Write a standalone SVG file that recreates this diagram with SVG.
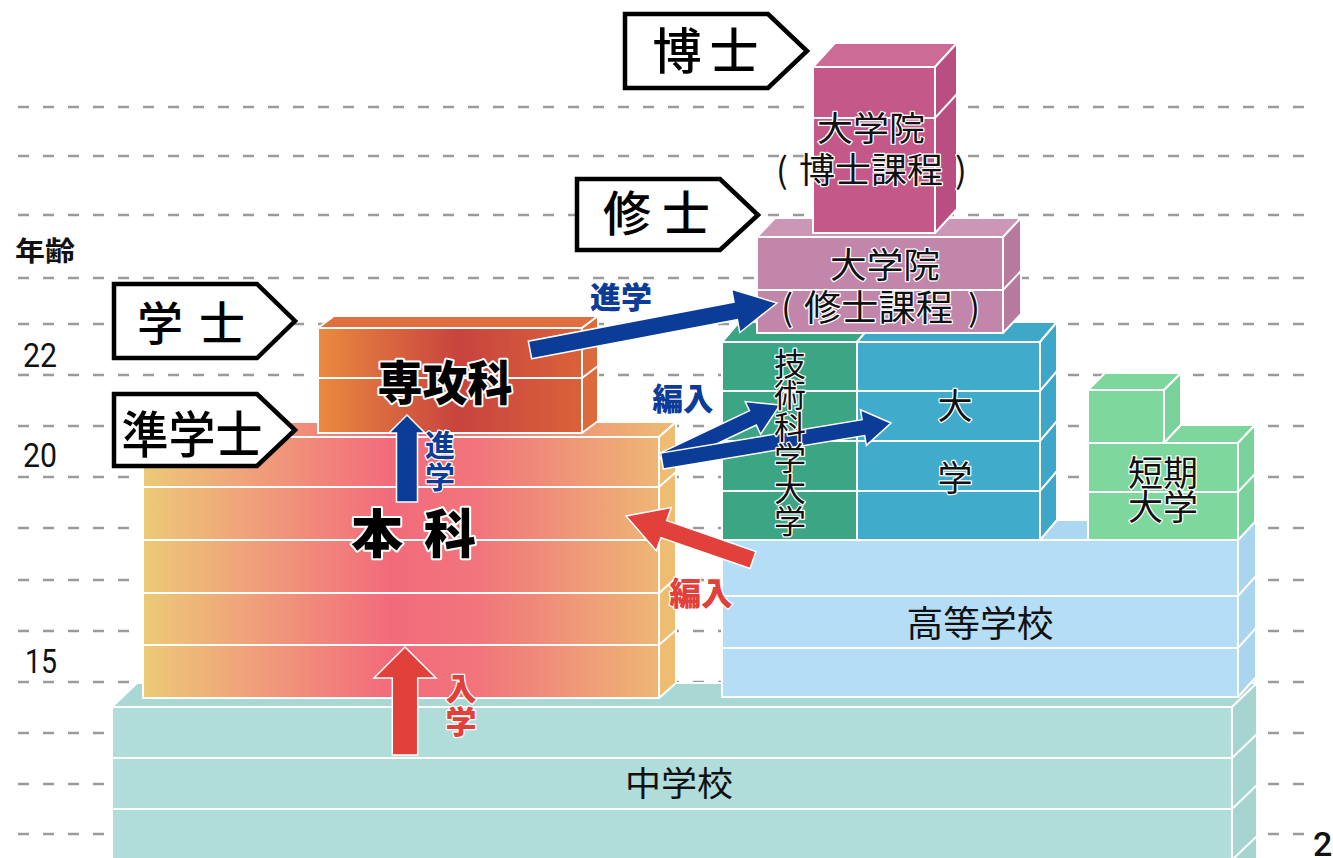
<svg xmlns="http://www.w3.org/2000/svg" width="1333" height="858" viewBox="0 0 1333 858">
<defs>
<style>
.grid line{stroke:#9b9b9b;stroke-width:2.5;stroke-dasharray:11 14}
.face{stroke:#fff;stroke-width:2;stroke-linejoin:round}
.rl{stroke:#fff;stroke-width:2;fill:none}
.jp{font-family:"Noto Sans CJK JP","Noto Sans",sans-serif}
.num{font-family:Roboto,"Liberation Sans",sans-serif;font-size:34px;fill:#111}
.out{stroke:#fff;stroke-width:4;paint-order:stroke;stroke-linejoin:round}
.thin{stroke:#fff;stroke-width:2.5;paint-order:stroke;stroke-linejoin:round}
.lab{fill:#fff;stroke:#000;stroke-width:4.5;stroke-linejoin:miter}
.blue{fill:#0b3c97}
.red{fill:#e2403a}
.arr{stroke:#fff;stroke-width:1.5;stroke-linejoin:miter}
</style>
<linearGradient id="gHonka" gradientUnits="userSpaceOnUse" x1="143" y1="0" x2="659" y2="0">
<stop offset="0" stop-color="#ecca77"/>
<stop offset="0.22" stop-color="#f09e7a"/>
<stop offset="0.48" stop-color="#f26b7b"/>
<stop offset="0.65" stop-color="#f1757b"/>
<stop offset="1" stop-color="#eeb675"/>
</linearGradient>
<linearGradient id="gSenko" gradientUnits="userSpaceOnUse" x1="318" y1="0" x2="598" y2="0">
<stop offset="0" stop-color="#ea8a40"/>
<stop offset="0.5" stop-color="#c8433e"/>
<stop offset="1" stop-color="#dc663a"/>
</linearGradient>
</defs>
<rect width="1333" height="858" fill="#fff"/>

<g class="grid">
<line x1="18" y1="107" x2="1306" y2="107"/>
<line x1="18" y1="156" x2="1306" y2="156"/>
<line x1="18" y1="215" x2="1306" y2="215"/>
<line x1="18" y1="278" x2="1306" y2="278"/>
<line x1="18" y1="324" x2="1306" y2="324"/>
<line x1="18" y1="375" x2="1306" y2="375"/>
<line x1="18" y1="426" x2="1306" y2="426"/>
<line x1="18" y1="477" x2="1306" y2="477"/>
<line x1="18" y1="528" x2="1306" y2="528"/>
<line x1="18" y1="580" x2="1306" y2="580"/>
<line x1="18" y1="631" x2="1306" y2="631"/>
<line x1="18" y1="682" x2="1306" y2="682"/>
<line x1="18" y1="733" x2="1306" y2="733"/>
<line x1="18" y1="784" x2="1306" y2="784"/>
<line x1="18" y1="834" x2="1306" y2="834"/>
</g>

<g id="ages">
<text class="jp" x="15" y="261" font-size="27" font-weight="700" textLength="60" lengthAdjust="spacingAndGlyphs" fill="#111">年齢</text>
<text class="num" x="23" y="367" textLength="34" lengthAdjust="spacingAndGlyphs">22</text>
<text class="num" x="23" y="467" textLength="34" lengthAdjust="spacingAndGlyphs">20</text>
<text class="num" x="25" y="673" textLength="32" lengthAdjust="spacingAndGlyphs">15</text>
<text class="num" x="1313" y="856" font-size="40" font-weight="500">2</text>
</g>

<g id="chugakko">
<rect class="face" x="112" y="707" width="1120" height="160" fill="#b0dcda"/>
<polygon class="face" points="112,707 137,683 1257,683 1232,707" fill="#a9d7d4"/>
<polygon class="face" points="1232,707 1257,683 1257,862 1232,886" fill="#a6d4d1"/>
<path class="rl" d="M112 758H1232L1257 734M112 809H1232L1257 785M1232 860L1257 836"/>
<text class="jp" x="679" y="796" font-size="34" text-anchor="middle" textLength="108" lengthAdjust="spacingAndGlyphs" fill="#111">中学校</text>
</g>

<g id="kotogakko">
<rect class="face" x="722" y="540" width="516" height="157" fill="#b5ddf5"/>
<polygon class="face" points="722,540 740,520 1256,520 1238,540" fill="#acd7f0"/>
<polygon class="face" points="1238,540 1256,520 1256,677 1238,697" fill="#aad5ef"/>
<path class="rl" d="M722 596H1238L1256 576M722 648H1238L1256 628"/>
<text class="jp" x="980" y="637" font-size="36" text-anchor="middle" textLength="147" lengthAdjust="spacingAndGlyphs" fill="#111">高等学校</text>
</g>

<g id="honka">
<polygon class="face" points="143,437 160,422 676,422 659,437" fill="url(#gHonka)"/>
<rect class="face" x="143" y="437" width="516" height="261" fill="url(#gHonka)"/>
<polygon class="face" points="659,437 676,422 676,683 659,698" fill="#efbd72"/>
<path class="rl" d="M143 487H659L676 472M143 540H659L676 525M143 593H659L676 578M143 645H659L676 630"/>
<text class="jp out" x="377" y="553" font-size="52" font-weight="900" text-anchor="middle" fill="#000">本</text>
<text class="jp out" x="450" y="553" font-size="52" font-weight="900" text-anchor="middle" fill="#000">科</text>
</g>

<g id="senkoka">
<polygon class="face" points="318,328 334,316 598,316 582,328" fill="#e0703f"/>
<rect class="face" x="318" y="328" width="264" height="105" fill="url(#gSenko)"/>
<polygon class="face" points="582,328 598,316 598,421 582,433" fill="#dc6a3c"/>
<path class="rl" d="M318 378H582L598 366"/>
<text class="jp out" x="445" y="400" font-size="47" font-weight="900" text-anchor="middle" textLength="135" lengthAdjust="spacingAndGlyphs" fill="#000">専攻科</text>
</g>

<g id="gikadai">
<polygon class="face" points="722,342 739,322 874,322 857,342" fill="#3aa583"/>
<rect class="face" x="722" y="342" width="135" height="198" fill="#3ba584"/>
<path class="rl" d="M722 391H857M722 441H857M722 491H857"/>
</g>

<g id="daigaku">
<polygon class="face" points="857,342 874,322 1057,322 1040,342" fill="#3fa8c9"/>
<rect class="face" x="857" y="342" width="183" height="198" fill="#41abcb"/>
<polygon class="face" points="1040,342 1057,322 1057,520 1040,540" fill="#3ea6c7"/>
<path class="rl" d="M857 391H1040L1057 371M857 441H1040L1057 421M857 491H1040L1057 471"/>
<text class="jp thin" x="955" y="419" font-size="35" text-anchor="middle" fill="#111">大</text>
<text class="jp thin" x="955" y="491" font-size="35" text-anchor="middle" fill="#111">学</text>
</g>

<g id="tanki">
<polygon class="face" points="1088,390 1105,373 1181,373 1164,390" fill="#7dd69c"/>
<polygon class="face" points="1164,390 1181,373 1181,425 1164,443" fill="#79d299"/>
<polygon class="face" points="1164,443 1181,425 1255,425 1238,443" fill="#7dd69c"/>
<polygon class="face" points="1238,443 1255,425 1255,522 1238,540" fill="#79d299"/>
<polygon class="face" points="1088,390 1164,390 1164,443 1238,443 1238,540 1088,540" fill="#7ed79d"/>
<path class="rl" d="M1088 443H1238M1088 492H1238L1255 474"/>
<text class="jp thin" x="1163" y="486" font-size="35" text-anchor="middle" fill="#111">短期</text>
<text class="jp thin" x="1163" y="520" font-size="35" text-anchor="middle" fill="#111">大学</text>
</g>

<g id="shushi-block">
<polygon class="face" points="757,237 775,218 1021,218 1003,237" fill="#cc97b7"/>
<rect class="face" x="757" y="237" width="246" height="96" fill="#c286aa"/>
<polygon class="face" points="1003,237 1021,218 1021,314 1003,333" fill="#b8799f"/>
<path class="rl" d="M757 290H1003L1021 271"/>
<text class="jp thin" x="885" y="278" font-size="35" text-anchor="middle" textLength="110" lengthAdjust="spacingAndGlyphs" fill="#111">大学院</text>
<text class="jp thin" y="321" font-size="36" fill="#111"><tspan x="781">(</tspan><tspan x="804" textLength="149" lengthAdjust="spacingAndGlyphs">修士課程</tspan><tspan x="968">)</tspan></text>
</g>

<g id="hakushi-block">
<polygon class="face" points="813,67 835,43 957,43 935,67" fill="#cd6b97"/>
<rect class="face" x="813" y="67" width="122" height="166" fill="#c45888"/>
<polygon class="face" points="935,67 957,43 957,209 935,233" fill="#b84f80"/>
<path class="rl" d="M813 118H935L957 94"/>
<text class="jp thin" x="871" y="141" font-size="34" text-anchor="middle" textLength="108" lengthAdjust="spacingAndGlyphs" fill="#111">大学院</text>
<text class="jp thin" y="183" font-size="35" fill="#111"><tspan x="776">(</tspan><tspan x="799" textLength="144" lengthAdjust="spacingAndGlyphs">博士課程</tspan><tspan x="955">)</tspan></text>
</g>

<g id="label-hakushi">
<polygon class="lab" points="625,14 768,14 807,51 768,88 625,88"/>
<text class="jp" x="677" y="69" font-size="49" font-weight="500" text-anchor="middle" fill="#000">博</text>
<text class="jp" x="734" y="69" font-size="49" font-weight="500" text-anchor="middle" fill="#000">士</text>
</g>
<g id="label-shushi">
<polygon class="lab" points="577,179 720,179 758,215 720,250 577,250"/>
<text class="jp" x="627" y="231" font-size="48" font-weight="500" text-anchor="middle" fill="#000">修</text>
<text class="jp" x="686" y="231" font-size="48" font-weight="500" text-anchor="middle" fill="#000">士</text>
</g>
<g id="label-gakushi">
<polygon class="lab" points="114,284 257,284 295,321 257,358 114,358"/>
<text class="jp" x="160" y="340" font-size="46" font-weight="500" text-anchor="middle" fill="#000">学</text>
<text class="jp" x="222" y="340" font-size="46" font-weight="500" text-anchor="middle" fill="#000">士</text>
</g>
<g id="label-jungakushi">
<polygon class="lab" points="114,394 257,394 295,430 257,466 114,466"/>
<text class="jp" x="192" y="453" font-size="50" font-weight="500" text-anchor="middle" textLength="141" lengthAdjust="spacingAndGlyphs" fill="#000">準学士</text>
</g>

<g id="connectors">
<polygon class="blue arr" points="531.7,358.8 737.4,319.7 739.8,332.5 777,303 731.6,289.3 734,302.1 528.3,341.2"/>
<polygon class="blue arr" points="396.5,502 396.5,433 389,433 407,415 425,433 417.5,433 417.5,502"/>
<polygon class="blue arr" points="665.4,468.2 756.3,425.1 760.6,434.2 780,405 745.2,401.6 749.5,410.7 658.6,453.8"/>
<polygon class="blue arr" points="663.3,468.9 864.7,435.5 866.4,445.4 891,423 860.5,409.8 862.1,419.7 660.7,453.1"/>
<polygon class="red arr" points="392.3,755 392.3,678 374,678 405,647 436,678 417.7,678 417.7,755"/>
<polygon class="red arr" points="755.9,551.5 666.7,520.6 671.3,507.4 626,516 656.3,550.8 660.9,537.6 750.1,568.5"/>
<text class="jp thin" x="621" y="308" font-size="30" font-weight="900" text-anchor="middle" textLength="62" lengthAdjust="spacingAndGlyphs" fill="#0b3c97">進学</text>
<text class="jp thin" x="683" y="410" font-size="31" font-weight="900" text-anchor="middle" textLength="61" lengthAdjust="spacingAndGlyphs" fill="#0b3c97">編入</text>
<text class="jp thin" font-size="30" font-weight="700" text-anchor="middle" fill="#0b3c97"><tspan x="440" y="456">進</tspan><tspan x="440" y="488">学</tspan></text>
<text class="jp thin" font-size="31" font-weight="900" text-anchor="middle" fill="#e2403a"><tspan x="461" y="700">入</tspan><tspan x="461" y="733">学</tspan></text>
<text class="jp thin" x="701" y="605" font-size="32" font-weight="900" text-anchor="middle" textLength="63" lengthAdjust="spacingAndGlyphs" fill="#e2403a">編入</text>
</g>

<g id="gikadai-label">
<text class="jp thin" font-size="32" text-anchor="middle" fill="#111"><tspan x="790" y="376">技</tspan><tspan x="790" y="407">術</tspan><tspan x="790" y="439">科</tspan><tspan x="790" y="470">学</tspan><tspan x="790" y="501">大</tspan><tspan x="790" y="533">学</tspan></text>
</g>
</svg>
